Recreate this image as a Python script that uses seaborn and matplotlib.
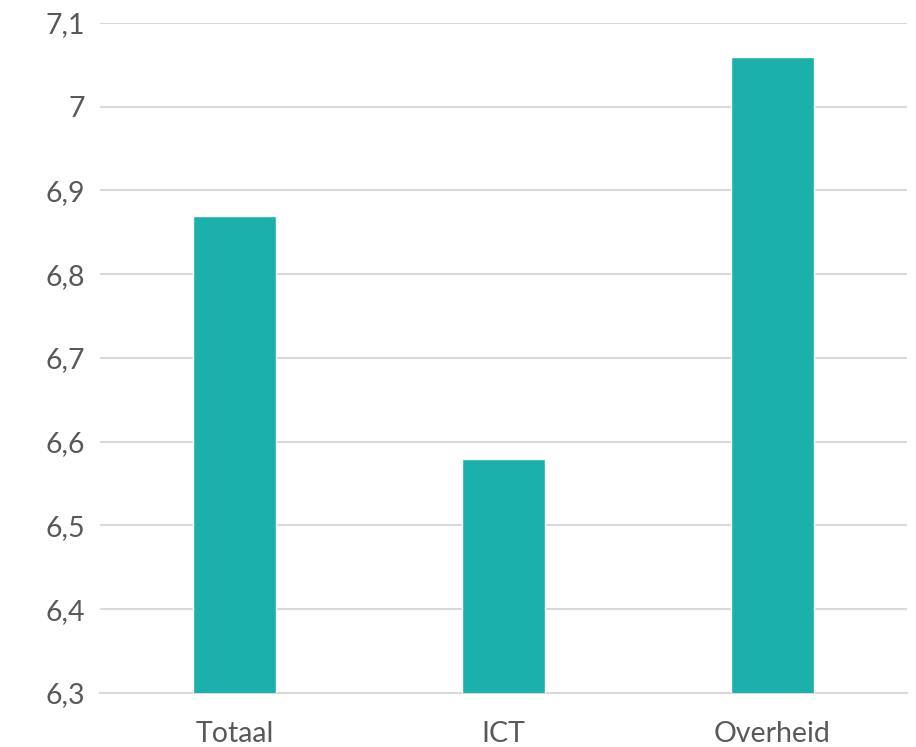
import matplotlib
matplotlib.use("Agg")
import matplotlib.pyplot as plt
import seaborn as sns
import pandas as pd
from matplotlib.ticker import FuncFormatter, MultipleLocator

categories = ["Totaal", "ICT", "Overheid"]
values = [6.87, 6.58, 7.06]

sns.set_theme(style="white")
plt.rcParams["font.family"] = ["Lato", "DejaVu Sans"]

df = pd.DataFrame({"sector": categories, "score": values})

fig = plt.figure(figsize=(9.16, 7.47), dpi=100)
ax = fig.add_axes([100 / 916, 1 - 693 / 747, 807 / 916, 670 / 747])

sns.barplot(data=df, x="sector", y="score", color="#1BB1AA", saturation=1,
            width=0.31, ax=ax, zorder=3)

ax.set_ylim(6.3, 7.1)
ax.set_xlim(-0.5, 2.5)
ax.yaxis.set_major_locator(MultipleLocator(0.1))
ax.yaxis.set_major_formatter(FuncFormatter(
    lambda v, p: ("%g" % round(v, 1)).replace(".", ",")))
ax.grid(axis="y", color="#D9D9D9", linewidth=1.5, zorder=0)
ax.grid(axis="x", visible=False)
for s in ["top", "right", "left"]:
    ax.spines[s].set_visible(False)
ax.spines["bottom"].set_color("#D9D9D9")
ax.spines["bottom"].set_linewidth(1.5)
ax.set_xlabel("")
ax.set_ylabel("")
ax.tick_params(axis="y", length=0, pad=11, labelsize=20.5, labelcolor="#595959")
ax.tick_params(axis="x", length=0, pad=20, labelsize=20.5, labelcolor="#595959")

fig.savefig("out.png", dpi=100)
